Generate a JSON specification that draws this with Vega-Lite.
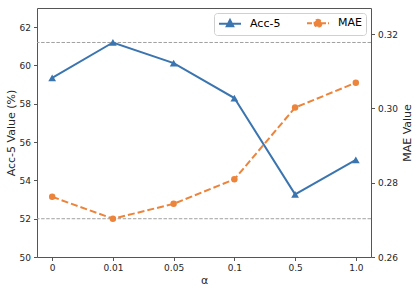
{
  "$schema": "https://vega.github.io/schema/vega-lite/v6.json",
  "width": 334,
  "height": 249,
  "autosize": "none",
  "padding": {"left": 37, "top": 8, "right": 44, "bottom": 31},
  "background": "white",
  "data": {
    "values": [
      {"alpha": "0", "acc": 59.35, "mae": 0.2762},
      {"alpha": "0.01", "acc": 61.2, "mae": 0.2703},
      {"alpha": "0.05", "acc": 60.12, "mae": 0.2743},
      {"alpha": "0.1", "acc": 58.3, "mae": 0.2809},
      {"alpha": "0.5", "acc": 53.27, "mae": 0.3002},
      {"alpha": "1.0", "acc": 55.07, "mae": 0.3069}
    ]
  },
  "encoding": {
    "x": {
      "field": "alpha",
      "type": "ordinal",
      "sort": null,
      "scale": {"type": "point", "padding": 0.25},
      "axis": {"title": "α", "labelAngle": 0, "titlePadding": 2}
    }
  },
  "layer": [
    {
      "layer": [
        {
          "mark": {"type": "rule", "color": "#a0a0a0", "strokeWidth": 1, "strokeDash": [3.5, 1.6]},
          "encoding": {"x": null, "y": {"aggregate": "max", "field": "acc", "type": "quantitative"}}
        },
        {
          "mark": {"type": "line", "strokeWidth": 2},
          "encoding": {
            "y": {
              "field": "acc",
              "type": "quantitative",
              "scale": {"domain": [50, 63], "nice": false, "zero": false},
              "axis": {"title": "Acc-5 Value (%)", "values": [50, 52, 54, 56, 58, 60, 62], "orient": "left"}
            },
            "color": {
              "datum": "Acc-5",
              "type": "nominal",
              "scale": {"domain": ["Acc-5", "MAE"], "range": ["#3b75af", "#ec843c"]},
              "legend": {
                "title": null,
                "orient": "top-right",
                "direction": "horizontal",
                "offset": 5,
                "padding": 4,
                "strokeColor": "#d0d0d0",
                "fillColor": "white",
                "cornerRadius": 3,
                "labelFont": "DejaVu Sans",
                "labelFontSize": 11,
                "labelColor": "black",
                "symbolSize": 100,
                "labelOffset": 20,
                "columnPadding": 22,
                "symbolStrokeWidth": 2,
                "encode": {
                  "symbols": {
                    "update": {
                      "shape": {"signal": "datum.value === 'Acc-5' ? 'M-1,0H3.4M1.2,-0.75L1.85,0.5L0.55,0.5Z' : 'M-1,0H3.4M1.9,0A0.7,0.7,0,1,1,0.5,0A0.7,0.7,0,1,1,1.9,0'"},
                      "fill": {"signal": "datum.value === 'Acc-5' ? '#3b75af' : '#ec843c'"},
                      "stroke": {"signal": "datum.value === 'Acc-5' ? '#3b75af' : '#ec843c'"},
                      "strokeDash": {"signal": "datum.value === 'Acc-5' ? [] : [5, 2]"},
                      "opacity": {"value": 1}
                    }
                  }
                }
              }
            }
          }
        },
        {
          "mark": {"type": "point", "shape": "triangle-up", "filled": true, "size": 60, "color": "#3b75af", "opacity": 1},
          "encoding": {"y": {"field": "acc", "type": "quantitative"}}
        }
      ]
    },
    {
      "layer": [
        {
          "mark": {"type": "rule", "color": "#a0a0a0", "strokeWidth": 1, "strokeDash": [3.5, 1.6]},
          "encoding": {"x": null, "y": {"aggregate": "min", "field": "mae", "type": "quantitative"}}
        },
        {
          "mark": {"type": "line", "strokeWidth": 2, "strokeDash": [7, 3]},
          "encoding": {
            "y": {
              "field": "mae",
              "type": "quantitative",
              "scale": {"domain": [0.26, 0.327], "nice": false, "zero": false},
              "axis": {"title": "MAE Value", "values": [0.26, 0.28, 0.3, 0.32], "format": ".2f", "orient": "right", "titleAngle": 270, "titlePadding": 15}
            },
            "color": {"datum": "MAE", "type": "nominal"}
          }
        },
        {
          "mark": {"type": "point", "shape": "circle", "filled": true, "size": 42, "color": "#ec843c", "opacity": 1},
          "encoding": {"y": {"field": "mae", "type": "quantitative"}}
        }
      ]
    }
  ],
  "resolve": {"scale": {"y": "independent"}},
  "config": {
    "view": {"stroke": "#555", "strokeWidth": 1},
    "axis": {
      "grid": false,
      "domain": false,
      "labelFont": "DejaVu Sans",
      "labelFontSize": 9,
      "labelColor": "#262626",
      "tickColor": "#555",
      "tickSize": 3.5,
      "labelPadding": 3,
      "titleFont": "DejaVu Sans",
      "titleFontSize": 11,
      "titleFontWeight": "normal",
      "titleColor": "#262626",
      "titlePadding": 3
    }
  }
}
